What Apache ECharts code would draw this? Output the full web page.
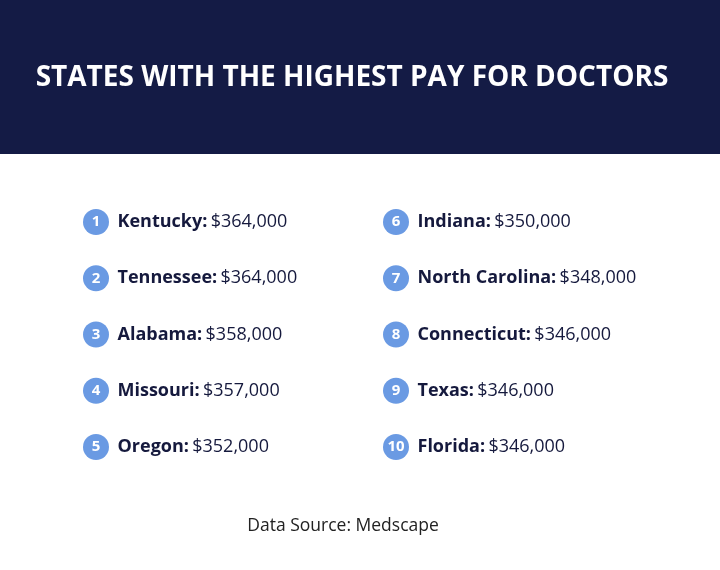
<!DOCTYPE html>
<html><head><meta charset="utf-8">
<script src="https://cdn.jsdelivr.net/npm/echarts@6/dist/echarts.min.js"></script>
<style>html,body{margin:0;padding:0;background:#fff}#c{width:720px;height:570px}</style>
</head><body><div id="c"></div>
<script>
const states = ['Kentucky','Tennessee','Alabama','Missouri','Oregon','Indiana','North Carolina','Connecticut','Texas','Florida'];
const pay = [364000,364000,358000,357000,352000,350000,348000,346000,346000,346000];
const ranks = [1,2,3,4,5,6,7,8,9,10];
const data = ranks.map((r,i)=>({value:[r<=5?0:1, ((r-1)%5)+1], rank:r, name:states[i], pay:pay[i]}));
const fmt = v => '$' + v.toLocaleString('en-US');
const chart = echarts.init(document.getElementById('c'));
chart.setOption({
  animation:false,
  backgroundColor:'#fff',
  grid:{left:96,right:324,top:222,bottom:123},
  xAxis:{type:'value',min:0,max:1,show:false},
  yAxis:{type:'value',min:1,max:5,inverse:true,show:false},
  graphic:[
    {type:'rect',shape:{x:0,y:0,width:720,height:154},style:{fill:'#141b45'}},
    {type:'text',x:352,y:78,style:{text:'STATES WITH THE HIGHEST PAY FOR DOCTORS',fill:'#fff',font:'bold 28px "Open Sans", sans-serif',align:'center',verticalAlign:'middle'}},
    {type:'text',x:343,y:526,style:{text:'Data Source: Medscape',fill:'#222',font:'17.5px "Open Sans", sans-serif',align:'center',verticalAlign:'middle'}}
  ],
  series:[
    {type:'scatter',data:data,symbolSize:26,itemStyle:{color:'#6a9ae3',opacity:1},
     label:{show:true,position:'inside',formatter:p=>String(p.data.rank),color:'#fff',fontSize:15,fontWeight:'bold',fontFamily:'Open Sans'}},
    {type:'scatter',data:data,symbolSize:1,itemStyle:{color:'#fff',opacity:0},
     label:{show:true,position:'right',distance:21,opacity:1,formatter:p=>'{b|'+p.data.name+':} {n|'+fmt(p.data.pay)+'}',
       rich:{b:{fontWeight:'bold',fontSize:18,color:'#15193d',fontFamily:'Open Sans'},n:{fontSize:18,color:'#15193d',fontFamily:'Open Sans'}}}}
  ]
});
</script></body></html>
